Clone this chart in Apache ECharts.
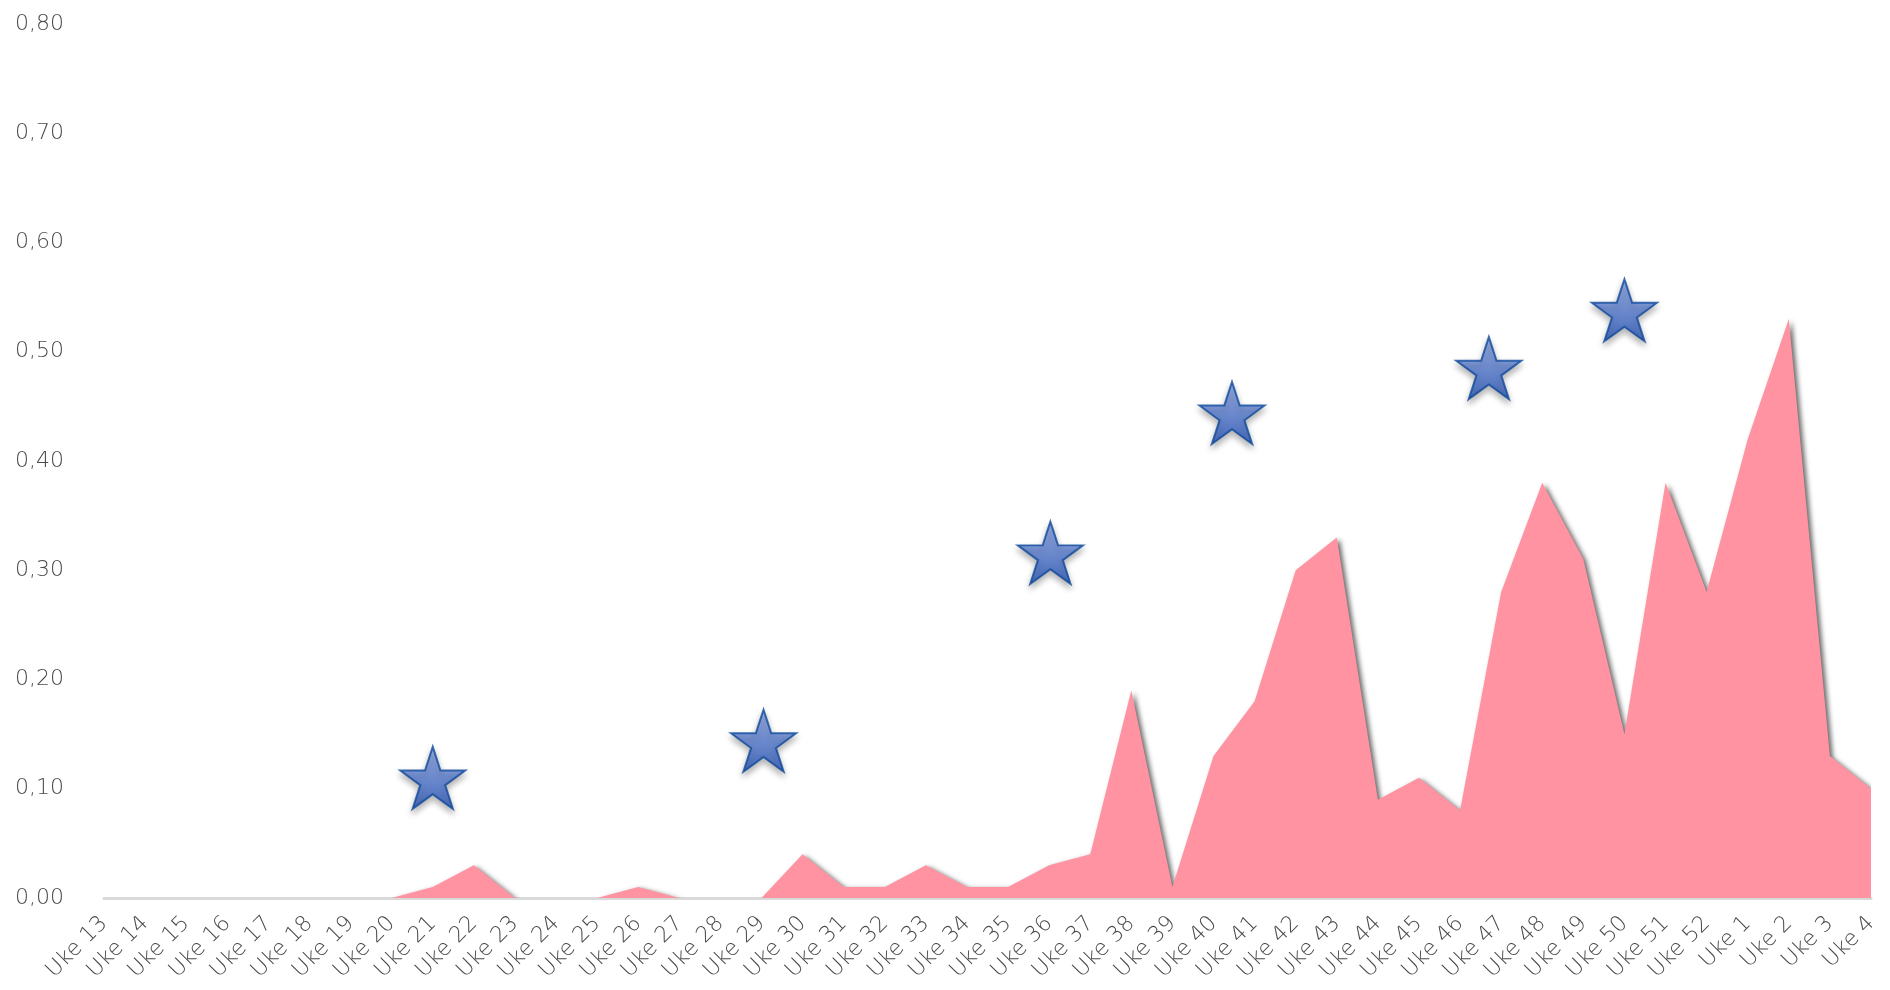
<!DOCTYPE html>
<html>
<head>
<meta charset="utf-8">
<script src="https://cdn.jsdelivr.net/npm/echarts@6/dist/echarts.min.js"></script>
<style>
html,body{margin:0;padding:0;background:#fff;}
#chart{width:1890px;height:990px;}
</style>
</head>
<body>
<div id="chart"></div>
<script>
const categories = ['Uke 13','Uke 14','Uke 15','Uke 16','Uke 17','Uke 18','Uke 19','Uke 20','Uke 21','Uke 22','Uke 23','Uke 24','Uke 25','Uke 26','Uke 27','Uke 28','Uke 29','Uke 30','Uke 31','Uke 32','Uke 33','Uke 34','Uke 35','Uke 36','Uke 37','Uke 38','Uke 39','Uke 40','Uke 41','Uke 42','Uke 43','Uke 44','Uke 45','Uke 46','Uke 47','Uke 48','Uke 49','Uke 50','Uke 51','Uke 52','Uke 1','Uke 2','Uke 3','Uke 4'];
const areaValues = [0,0,0,0,0,0,0,0,0.01,0.03,0,0,0,0.01,0,0,0,0.04,0.01,0.01,0.03,0.01,0.01,0.03,0.04,0.19,0.01,0.13,0.18,0.30,0.33,0.09,0.11,0.08,0.28,0.38,0.31,0.15,0.38,0.28,0.42,0.53,0.13,0.10];
const starPositions = [8, 16.05, 23.03, 27.45, 33.7, 37];
const starValues = [0.11, 0.144, 0.316, 0.444, 0.485, 0.538];
const yTicks = { min: 0, max: 0.8, interval: 0.1 };

const starPath = 'path://M50,0 L61.8,36.2 L100,36.2 L69.1,58.8 L80.9,95.1 L50,72.7 L19.1,95.1 L30.9,58.8 L0,36.2 L38.2,36.2 Z';
const FONT = '"DejaVu Sans", sans-serif';

const chart = echarts.init(document.getElementById('chart'));
chart.setOption({
  animation: false,
  backgroundColor: '#ffffff',
  grid: { left: 104, right: 19, top: 24, bottom: 92, containLabel: false },
  xAxis: [{
    type: 'category',
    data: categories,
    boundaryGap: false,
    axisLine: { show: true, lineStyle: { color: '#d9d9d9', width: 3 } },
    axisTick: { show: false },
    splitLine: { show: false },
    axisLabel: { interval: 0, rotate: 45, margin: 22, color: '#4a4a4a', fontSize: 22, fontWeight: 200, fontFamily: FONT }
  }, {
    type: 'value', min: 0, max: categories.length - 1, show: false
  }],
  yAxis: {
    type: 'value',
    min: yTicks.min, max: yTicks.max, interval: yTicks.interval,
    axisLine: { show: false }, axisTick: { show: false }, splitLine: { show: false },
    axisLabel: {
      margin: 40, color: '#4a4a4a', fontSize: 22, fontWeight: 200, fontFamily: FONT,
      formatter: v => v.toFixed(2).replace('.', ',')
    }
  },
  series: [{
    type: 'line',
    data: areaValues,
    xAxisIndex: 0,
    symbol: 'none',
    lineStyle: { width: 0, color: 'rgba(0,0,0,0)' },
    areaStyle: {
      color: '#ff93a2', opacity: 1,
      shadowColor: 'rgba(0,0,0,0.6)', shadowBlur: 5, shadowOffsetX: 3, shadowOffsetY: 2
    },
    z: 2
  }, {
    type: 'scatter',
    xAxisIndex: 1,
    data: starPositions.map((x, i) => [x, starValues[i]]),
    symbol: starPath,
    symbolSize: [65, 62],
    itemStyle: {
      color: new echarts.graphic.LinearGradient(0, 0, 0, 1, [
        { offset: 0, color: '#8eaaee' },
        { offset: 1, color: '#2653b8' }
      ]),
      borderColor: '#0f4a9c', borderWidth: 2,
      shadowColor: 'rgba(0,0,0,0.35)', shadowBlur: 6, shadowOffsetY: 4
    },
    z: 3
  }]
});
</script>
</body>
</html>
